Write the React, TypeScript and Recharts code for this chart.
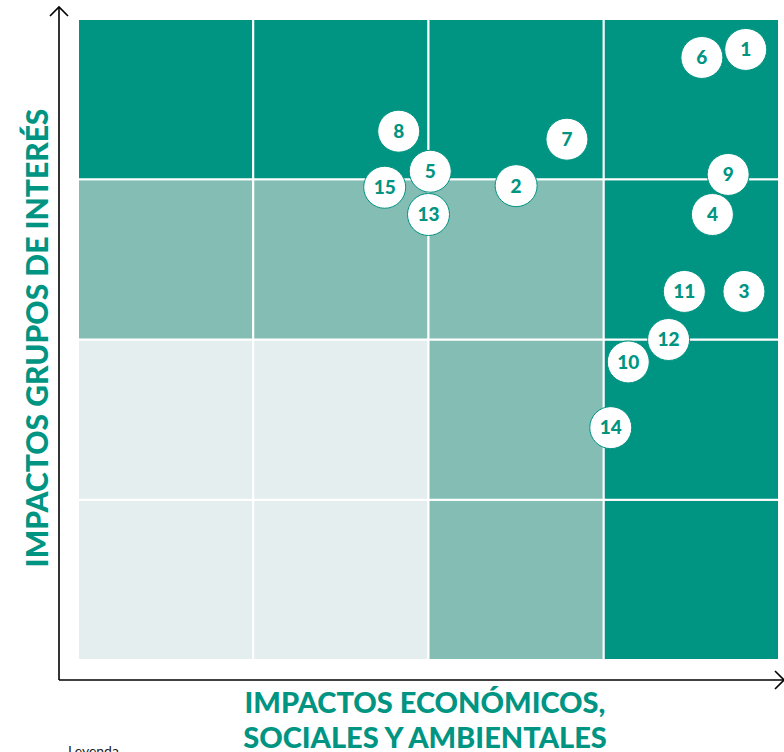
import { ScatterChart, Scatter, XAxis, YAxis, ReferenceArea } from 'recharts';

// levels per cell: 0 = low, 1 = medium, 2 = high. rows go bottom -> top
const cellLevels: number[][] = [
  [0, 0, 1, 2],
  [0, 0, 1, 2],
  [1, 1, 1, 2],
  [2, 2, 2, 2],
];

const topicIds = [14, 10, 12, 3, 11, 4, 9, 2, 15, 5, 13, 7, 8, 6, 1];
const economicImpact = [3.04, 3.14, 3.37, 3.8, 3.46, 3.62, 3.71, 2.5, 1.75, 2.01, 2.0, 2.79, 1.83, 3.56, 3.81];
const stakeholderImpact = [1.45, 1.86, 2.0, 2.3, 2.3, 2.78, 3.03, 2.96, 2.95, 3.05, 2.78, 3.25, 3.3, 3.76, 3.81];

const points = topicIds.map((id, i) => ({
  id,
  x: economicImpact[i],
  y: stakeholderImpact[i],
}));

const palette = ['#e5eeef', '#84bdb4', '#009482'];
const teal = '#009482';

const cells = cellLevels.flatMap((row, r) =>
  row.map((level, c) => ({ r, c, level })),
);

function Bubble(props: any) {
  const { cx, cy, payload } = props;
  return (
    <g>
      <circle cx={cx} cy={cy} r={21} fill="#fff" stroke={teal} strokeWidth={1} />
      <text
        x={cx}
        y={cy}
        dy="0.36em"
        textAnchor="middle"
        fontFamily="Lato, sans-serif"
        fontWeight={900}
        fontSize={19}
        fill={teal}
      >
        {payload.id}
      </text>
    </g>
  );
}

const axisStroke = { stroke: '#000', strokeWidth: 1.6 };

export default function App() {
  return (
    <div style={{ position: 'absolute', left: 0, top: 0, width: 784, height: 752, overflow: 'hidden', background: '#fff' }}>
      <svg width={0} height={0} style={{ position: 'absolute' }}>
        <defs>
          <marker
            id="arrowHead"
            viewBox="0 0 20 20"
            markerUnits="userSpaceOnUse"
            markerWidth={20}
            markerHeight={20}
            refX={10}
            refY={10}
            orient="auto-start-reverse"
          >
            <path d="M1,1 L10,10 L1,19" fill="none" stroke="#000" strokeWidth={1.6} />
          </marker>
        </defs>
      </svg>
      <ScatterChart width={784} height={752} margin={{ top: 7, right: 0, bottom: 71, left: 58 }}>
        <XAxis
          type="number"
          dataKey="x"
          domain={[0, 4]}
          allowDataOverflow
          height={1}
          tick={false}
          tickLine={false}
          padding={{ left: 19, right: 5 }}
          axisLine={{ ...axisStroke, markerEnd: 'url(#arrowHead)' }}
        />
        <YAxis
          type="number"
          dataKey="y"
          domain={[0, 4]}
          allowDataOverflow
          width={1}
          tick={false}
          tickLine={false}
          padding={{ top: 12, bottom: 20 }}
          axisLine={{ ...axisStroke, markerStart: 'url(#arrowHead)' }}
        />
        {cells.map((cell) => (
          <ReferenceArea
            key={`${cell.r}-${cell.c}`}
            x1={cell.c}
            x2={cell.c + 1}
            y1={cell.r}
            y2={cell.r + 1}
            fill={palette[cell.level]}
            fillOpacity={1}
            stroke="#fff"
            strokeWidth={2}
          />
        ))}
        <Scatter data={points} shape={<Bubble />} isAnimationActive={false} />
      </ScatterChart>
      <div
        style={{
          position: 'absolute',
          left: 36,
          top: 338,
          transform: 'translate(-50%, -50%) rotate(-90deg)',
          whiteSpace: 'nowrap',
          fontFamily: 'Lato, sans-serif',
          fontWeight: 900,
          fontSize: 30,
          color: teal,
        }}
      >
        IMPACTOS GRUPOS DE INTERÉS
      </div>
      <div
        style={{
          position: 'absolute',
          left: 425,
          top: 684,
          transform: 'translateX(-50%)',
          textAlign: 'center',
          whiteSpace: 'nowrap',
          fontFamily: 'Lato, sans-serif',
          fontWeight: 900,
          fontSize: 29,
          lineHeight: '35px',
          color: teal,
        }}
      >
        IMPACTOS ECONÓMICOS,
        <br />
        SOCIALES Y AMBIENTALES
      </div>
      <div
        style={{
          position: 'absolute',
          left: 68,
          top: 742,
          fontFamily: 'Lato, sans-serif',
          fontSize: 14,
          color: '#222',
        }}
      >
        Leyenda
      </div>
    </div>
  );
}
